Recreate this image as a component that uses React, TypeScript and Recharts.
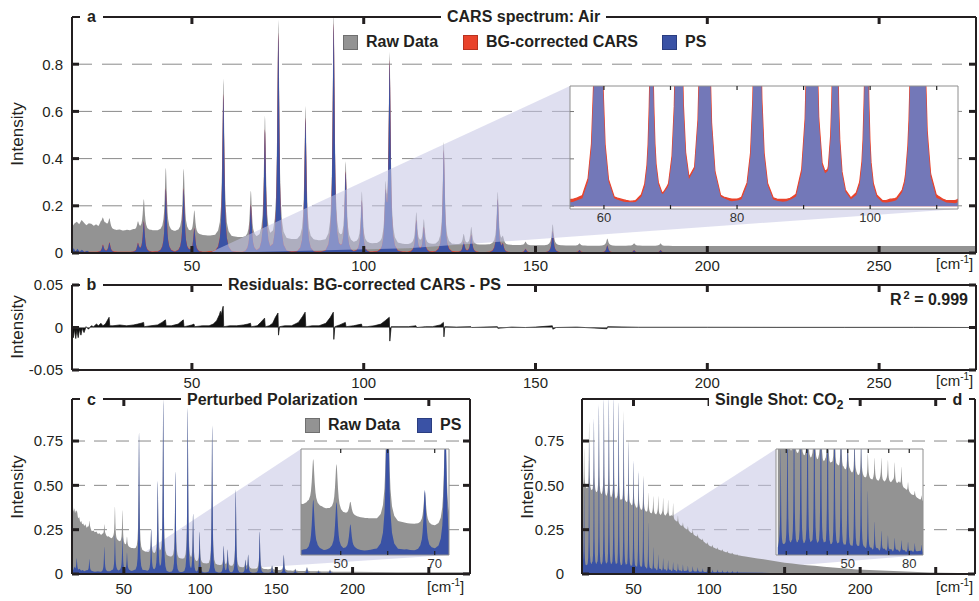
import React from 'react';
import { ComposedChart, Area, XAxis, YAxis, CartesianGrid } from 'recharts';

type Pt = [number, number];
type Line3 = [number, number, number];

// ================= DATA =================
// Panel a/b – air: [wavenumber cm-1, PS (background-free) peak intensity]
const AIR_LINES: Pt[] = [
  [24.1, 0.03], [26.0, 0.04], [34.3, 0.035], [36.0, 0.13], [42.4, 0.27], [47.6, 0.27], [50.7, 0.1],
  [59.15, 0.67], [67.15, 0.2], [71.25, 0.52], [75.15, 0.93], [83.05, 0.57], [91.25, 0.97], [94.75, 0.34],
  [99.45, 0.22], [106.35, 0.21], [107.55, 0.8], [115.3, 0.135], [117.5, 0.105], [123.3, 0.435], [129.1, 0.045],
  [131.3, 0.075], [139.0, 0.225], [140.5, 0.03], [147.1, 0.015], [155.0, 0.09], [162.8, 0.01], [170.9, 0.03],
  [178.7, 0.01], [186.4, 0.01],
];
const AIR_RAW_BG: Pt[] = [
  [15.1, 0.11], [15.8, 0.125], [16.5, 0.132], [17.2, 0.122], [17.9, 0.14], [18.6, 0.128], [19.3, 0.118],
  [20.0, 0.126], [20.7, 0.124], [21.4, 0.115], [22.1, 0.121], [22.8, 0.112], [23.5, 0.128], [24.2, 0.118],
  [24.9, 0.122], [25.8, 0.108], [26.8, 0.1], [28, 0.097], [29, 0.099], [30, 0.095], [31, 0.098], [32, 0.096],
  [33, 0.099], [34, 0.095], [35, 0.097], [36, 0.098], [37, 0.094], [38, 0.096], [39.5, 0.094], [41, 0.093],
  [42.5, 0.092], [44, 0.09], [45.5, 0.091], [47, 0.088], [48.5, 0.087], [50, 0.082], [51.5, 0.077], [53, 0.076],
  [55, 0.073], [57, 0.072], [59, 0.07], [61, 0.068], [63, 0.067], [65, 0.066], [68, 0.063], [71, 0.061],
  [74, 0.059], [77, 0.057], [80, 0.056], [83, 0.054], [86, 0.053], [89, 0.05], [92, 0.048], [95, 0.045],
  [98, 0.042], [102, 0.04], [107, 0.038], [112, 0.037], [117, 0.037], [122, 0.036], [127, 0.036], [132, 0.035],
  [137, 0.035], [142, 0.034], [147, 0.033], [152, 0.032], [157, 0.032], [162, 0.031], [170, 0.031], [180, 0.031],
  [190, 0.03], [200, 0.03], [230, 0.03], [260, 0.03], [278.2, 0.03],
];
const AIR_BGC_BASE: Pt[] = [
  [15.1, 0.008], [20, 0.005], [30, 0.005], [54, 0.005], [55, 0.006], [56, 0.0055], [57, 0.006], [62, 0.0045],
  [63, 0.005], [64, 0.004], [65, 0.0045], [66, 0.0055], [69, 0.004], [70, 0.005], [73, 0.0045], [78, 0.004],
  [79, 0.005], [80, 0.0042], [81, 0.005], [86, 0.0042], [87, 0.005], [88, 0.004], [89, 0.005], [97, 0.004],
  [98, 0.005], [102, 0.004], [103, 0.0052], [104, 0.0044], [110, 0.005], [111, 0.004], [112, 0.0045],
  [113, 0.005], [150, 0.003], [278.2, 0.002],
];
const AIR_PS_BASE: Pt[] = [
  [15.1, 0.012], [15.6, 0.02], [16.1, 0.006], [16.7, 0.018], [17.3, 0.005], [18.0, 0.014], [18.7, 0.004],
  [19.5, 0.01], [20.3, 0.003], [22, 0.003], [60, 0.003], [120, 0.002], [278.2, 0.001],
];
const AIR_RESIDUAL: Pt[] = [
  [15.1, 0], [15.5, -0.012], [15.8, -0.002], [16.2, -0.013], [16.5, -0.003], [16.9, -0.012], [17.3, -0.002],
  [17.7, -0.009], [18.1, -0.001], [18.6, -0.006], [19.2, 0.001], [19.9, -0.002], [20.7, 0.002], [21.4, 0.001],
  [22.2, 0.004], [22.8, 0.002], [23.5, 0.005], [24.1, 0.002], [24.8, 0.004], [25.9, 0.012], [26.1, 0.002],
  [27, 0.002], [29, 0.003], [31, 0.002], [33, 0.003], [34.2, 0.004], [35.2, 0.005], [35.95, 0.006], [36.1, 0.001],
  [38, 0.002], [40, 0.003], [41.3, 0.006], [42.3, 0.009], [42.5, 0.002], [44, 0.002], [46, 0.004], [47.5, 0.009],
  [47.7, 0.001], [49, 0.002], [50, 0.003], [50.6, 0.004], [50.8, 0.001], [53, 0.002], [55, 0.002], [56.2, 0.004],
  [57.2, 0.008], [58.0, 0.015], [58.3, 0.019], [58.5, 0.014], [58.9, 0.022], [59.1, 0.025], [59.25, 0.001],
  [61, 0.002], [63, 0.002], [65, 0.003], [66.3, 0.004], [67.05, 0.005], [67.25, 0.001], [69, 0.002], [70.0, 0.006],
  [71.15, 0.011], [71.35, 0.001], [72.5, 0.002], [73.5, 0.005], [74.3, 0.012], [75.05, 0.017], [75.2, -0.009],
  [75.5, 0.001], [77, 0.002], [79, 0.002], [81, 0.006], [82.2, 0.013], [82.95, 0.018], [83.15, 0.001], [85, 0.002],
  [87, 0.002], [89, 0.005], [90.3, 0.012], [91.15, 0.018], [91.3, -0.014], [91.6, 0.001], [93, 0.003],
  [94.65, 0.006], [94.85, 0.001], [97, 0.002], [99.35, 0.004], [99.55, 0.001], [101, 0.001], [103, 0.002],
  [105, 0.004], [106.25, 0.008], [107.45, 0.012], [107.6, -0.016], [108, 0.001], [110, 0.001], [113, 0.001],
  [115.2, 0.002], [115.4, 0.0], [118, 0.001], [120, 0.001], [122.3, 0.003], [123.2, 0.006], [123.35, -0.011],
  [123.6, 0.001], [127, 0.0005], [131.2, 0.001], [131.4, 0], [135, 0.0005], [138.9, 0.001], [139.05, -0.001],
  [143, 0.0005], [147, 0], [150, 0.0005], [154.9, 0.002], [155.05, -0.002], [156, 0], [162, 0.0005],
  [170.8, -0.0015], [171, 0.001], [180, 0.0003], [200, 0.0003], [220, 0.0002], [240, 0.0002], [260, 0.0002],
  [278.2, 0],
];

// Panel c – perturbed polarization: [wavenumber, PS peak, raw peak]
const PP_LINES: Line3[] = [
  [19.1, 0.06, 0.36], [27.4, 0.07, 0.30], [37.2, 0.14, 0.28], [44.15, 0.2, 0.38], [49.1, 0.19, 0.36],
  [52.05, 0.1, 0.21], [59.95, 0.78, 0.8], [67.9, 0.24, 0.25], [72.25, 0.51, 0.52], [75.8, 0.97, 0.99],
  [83.8, 0.57, 0.58], [91.9, 0.93, 0.94], [95.4, 0.33, 0.34], [99.7, 0.23, 0.24], [107.9, 0.83, 0.84],
  [115.5, 0.15, 0.16], [118.1, 0.13, 0.14], [123.4, 0.47, 0.48], [129.7, 0.07, 0.08], [131.5, 0.1, 0.11],
  [139.1, 0.235, 0.24], [147.2, 0.04, 0.05], [154.9, 0.1, 0.11], [162.4, 0.02, 0.03], [170.1, 0.03, 0.04],
  [177.7, 0.01, 0.02], [185.2, 0.015, 0.025],
];
const PP_RAW_BG: Pt[] = [
  [16, 0.37], [16.5, 0.39], [17, 0.35], [17.5, 0.37], [18, 0.34], [18.5, 0.35], [19, 0.32], [19.5, 0.33],
  [20, 0.31], [20.7, 0.32], [21.4, 0.29], [22, 0.3], [22.7, 0.28], [23.4, 0.285], [24, 0.27], [24.8, 0.28],
  [25.6, 0.26], [26.4, 0.265], [27.2, 0.25], [28, 0.255], [29, 0.24], [30, 0.245], [31, 0.235], [32, 0.24],
  [33, 0.225], [34, 0.23], [35, 0.22], [36, 0.225], [37, 0.215], [38, 0.22], [39, 0.21], [40, 0.212],
  [41, 0.205], [42, 0.2], [43, 0.203], [44, 0.196], [45, 0.19], [46, 0.188], [47, 0.182], [48, 0.178],
  [49, 0.17], [50, 0.165], [51, 0.16], [52, 0.155], [53, 0.153], [54, 0.15], [55, 0.147], [56, 0.145],
  [58, 0.14], [60, 0.136], [62, 0.13], [64, 0.126], [66, 0.122], [68, 0.118], [70, 0.113], [73, 0.108],
  [76, 0.104], [80, 0.098], [84, 0.092], [88, 0.085], [92, 0.078], [96, 0.071], [100, 0.064], [105, 0.057],
  [110, 0.052], [115, 0.048], [120, 0.044], [125, 0.04], [130, 0.034], [135, 0.03], [140, 0.028], [146, 0.027],
  [151, 0.023], [157, 0.02], [165, 0.017], [175, 0.015], [187, 0.013], [200, 0.012], [230, 0.01], [277, 0.01],
];
const PP_PS_BASE: Pt[] = [
  [16, 0.03], [16.5, 0.05], [17, 0.02], [17.6, 0.04], [18.2, 0.025], [19, 0.03], [20, 0.02], [21, 0.028],
  [22, 0.018], [23, 0.022], [24, 0.015], [25.5, 0.02], [27, 0.014], [29, 0.016], [31, 0.012], [33, 0.015],
  [35, 0.012], [38, 0.014], [41, 0.015], [42, 0.02], [43, 0.016], [45, 0.022], [46.5, 0.017], [48, 0.021],
  [50.5, 0.018], [53, 0.022], [55, 0.017], [57, 0.02], [62, 0.018], [64, 0.021], [66, 0.016], [70, 0.02],
  [73, 0.016], [76, 0.012], [80, 0.01], [100, 0.008], [130, 0.007], [170, 0.006], [277, 0.006],
];

// Panel d – single shot CO2: [wavenumber, PS peak, raw peak]
const CO2_LINES: Line3[] = [
  [17.3, 0.45, 0.71], [20.6, 0.72, 0.86], [23.8, 0.85, 0.86], [27.1, 0.93, 0.95], [30.4, 0.97, 0.98],
  [33.7, 0.98, 0.98], [36.9, 0.98, 0.98], [40.2, 0.95, 0.97], [43.5, 0.85, 0.92], [46.7, 0.72, 0.76],
  [50.0, 0.62, 0.63], [53.3, 0.56, 0.575], [56.5, 0.52, 0.556], [59.8, 0.27, 0.46], [63.1, 0.13, 0.44],
  [66.4, 0.09, 0.44], [69.6, 0.07, 0.43], [72.9, 0.06, 0.42], [76.2, 0.05, 0.4], [79.4, 0.045, 0.33],
  [82.7, 0.04, 0.29], [86.0, 0.035, 0.27], [89.2, 0.03, 0.25], [92.5, 0.025, 0.225], [95.8, 0.02, 0.2],
  [99.1, 0.02, 0.18], [102.3, 0.015, 0.165], [105.6, 0.015, 0.15], [108.9, 0.012, 0.14], [112.1, 0.01, 0.13],
  [115.4, 0.01, 0.12], [118.7, 0.008, 0.11],
];
const CO2_RAW_BG: Pt[] = [
  [15.9, 0.49], [17, 0.48], [18, 0.495], [19, 0.48], [20, 0.475], [21, 0.485], [22, 0.47], [23, 0.465],
  [24, 0.475], [25, 0.46], [26, 0.455], [27, 0.465], [28, 0.45], [29, 0.445], [30, 0.455], [31, 0.44],
  [32, 0.435], [33, 0.445], [34, 0.43], [35, 0.425], [36, 0.435], [37, 0.42], [38, 0.415], [39, 0.425],
  [40, 0.41], [41, 0.405], [42, 0.415], [43, 0.4], [44, 0.395], [45, 0.405], [46, 0.39], [47, 0.385],
  [48, 0.395], [49, 0.38], [50, 0.375], [51, 0.385], [52, 0.37], [53, 0.365], [54, 0.375], [55, 0.36],
  [56, 0.355], [57, 0.365], [58, 0.352], [59, 0.348], [60, 0.358], [61, 0.345], [62, 0.34], [63, 0.352],
  [64, 0.34], [65, 0.335], [66, 0.347], [67, 0.336], [68, 0.332], [69, 0.343], [70, 0.333], [71, 0.328],
  [72, 0.338], [73, 0.33], [74, 0.324], [75, 0.332], [76, 0.31], [77, 0.305], [78, 0.3], [79, 0.29],
  [80, 0.285], [81, 0.275], [82, 0.27], [83, 0.265], [84, 0.258], [85, 0.252], [86, 0.245], [87, 0.24],
  [88, 0.232], [90, 0.22], [92, 0.21], [94, 0.198], [96, 0.185], [98, 0.172], [100, 0.16], [102, 0.152],
  [104, 0.145], [106, 0.138], [108, 0.132], [110, 0.126], [113, 0.118], [116, 0.112], [120, 0.104],
  [124, 0.098], [128, 0.093], [132, 0.088], [136, 0.083], [140, 0.077], [145, 0.07], [150, 0.064], [155, 0.059],
  [160, 0.054], [165, 0.05], [170, 0.046], [176, 0.041], [182, 0.037], [190, 0.031], [198, 0.026], [206, 0.023],
  [214, 0.02], [222, 0.017], [230, 0.014], [238, 0.011], [246, 0.009], [255, 0.007], [265, 0.005], [276, 0.004],
];
const CO2_PS_BASE: Pt[] = [
  [15.9, 0.03], [16.8, 0.055], [17.5, 0.03], [19, 0.045], [20, 0.03], [22.5, 0.05], [23.3, 0.03], [25.8, 0.05],
  [26.5, 0.028], [29, 0.045], [29.8, 0.03], [32.3, 0.05], [33, 0.027], [35.5, 0.045], [36.2, 0.027], [38.7, 0.048],
  [39.4, 0.025], [42, 0.04], [42.8, 0.025], [45.3, 0.045], [46, 0.024], [48.5, 0.04], [49.3, 0.022], [51.7, 0.038],
  [52.5, 0.02], [55, 0.036], [55.7, 0.02], [58.2, 0.034], [59, 0.018], [61.5, 0.032], [62.3, 0.018], [64.7, 0.03],
  [65.5, 0.016], [68, 0.028], [68.8, 0.015], [71.2, 0.026], [72, 0.014], [74.4, 0.024], [75.3, 0.013],
  [77.6, 0.022], [78.5, 0.012], [81, 0.02], [82, 0.012], [85, 0.018], [86, 0.011], [90, 0.014], [95, 0.012],
  [100, 0.01], [110, 0.009], [120, 0.008], [140, 0.006], [170, 0.005], [276, 0.004],
];

// normalised line profile read from an isolated peak in the zoom (offset cm-1 -> fraction of peak)
const LINE_PROFILE: Pt[] = [
  [0, 1], [0.08, 0.96], [0.16, 0.86], [0.25, 0.72], [0.4, 0.5], [0.6, 0.3], [0.8, 0.19], [1.2, 0.09],
  [1.8, 0.035], [2.8, 0.008], [4.5, 0.002], [6, 0],
];
// line width factor per panel (a, c, d)
const LINE_WIDTH_A = 0.85;
const LINE_WIDTH_C = 0.8;
const LINE_WIDTH_D = 0.5;

// ticks
const AB_X_TICKS = [50, 100, 150, 200, 250];
const A_Y_TICKS = [0, 0.2, 0.4, 0.6, 0.8];
const B_Y_TICKS = [-0.05, 0, 0.05];
const CD_X_TICKS = [50, 100, 150, 200, 250];
const CD_Y_TICKS = [0, 0.25, 0.5, 0.75];
const A_INSET_TICKS = [60, 70, 80, 90, 100, 110];
const A_INSET_LABELS = [60, 80, 100];
const A_INSET_Y_TICKS = [0, 0.05, 0.1];
const C_INSET_TICKS = [50, 60, 70];
const C_INSET_LABELS = [50, 70];
const D_INSET_TICKS = [20, 30, 40, 50, 60, 70, 80];
const D_INSET_LABELS = [50, 80];

// ================= LAYOUT =================
const FONT = '"Liberation Sans", Arial, Helvetica, sans-serif';
const INK = '#231f20';
const GRAY = '#939393';
const BLUE = '#3a52a5';
const RED = '#e9432b';
const INSET_BLUE = '#7378b8';
const SHADE = '#c4c4e4';

type Box = { left: number; right: number; top: number; bottom: number };
const A_DOM: Pt = [15.1, 278.2];
const A_YDOM: Pt = [0, 1];
const A_BOX: Box = { left: 72, right: 976, top: 17, bottom: 253 };
const A_INSET: Box = { left: 570, right: 958, top: 86, bottom: 209 };
const A_INSET_DOM: Pt = [54.9, 113.2];
const A_INSET_YDOM: Pt = [-0.003, 0.127];
const B_YDOM: Pt = [-0.05, 0.05];
const C_DOM: Pt = [16, 277];
const CD_YDOM: Pt = [0, 0.987];
const C_BOX: Box = { left: 72, right: 470, top: 399, bottom: 574 };
const C_INSET: Box = { left: 301, right: 449, top: 449, bottom: 555 };
const C_INSET_DOM: Pt = [41.55, 73.04];
const C_INSET_YDOM: Pt = [0, 0.42];
const D_DOM: Pt = [15.9, 276];
const D_BOX: Box = { left: 582, right: 975, top: 399, bottom: 574 };
const D_INSET: Box = { left: 776, right: 923, top: 449, bottom: 555 };
const D_INSET_DOM: Pt = [15.0, 86.7];
const D_INSET_YDOM: Pt = [0, 0.48];

// ================= HELPERS =================
function interp(pts: Pt[], x: number): number {
  const n = pts.length;
  if (x <= pts[0][0]) return pts[0][1];
  if (x >= pts[n - 1][0]) return pts[n - 1][1];
  let lo = 0, hi = n - 1;
  while (hi - lo > 1) {
    const m = (lo + hi) >> 1;
    if (pts[m][0] <= x) lo = m; else hi = m;
  }
  const [x0, y0] = pts[lo];
  const [x1, y1] = pts[hi];
  return y0 + ((y1 - y0) * (x - x0)) / (x1 - x0);
}
function shape(d: number, w: number): number {
  const a = Math.abs(d) / w;
  return a >= 6 ? 0 : interp(LINE_PROFILE, a);
}
function spectrum(range: Pt, base: Pt[], lines: Pt[], width: number) {
  const set = new Set<number>();
  const add = (x: number) => {
    if (x >= range[0] && x <= range[1]) set.add(Math.round(x * 10000) / 10000);
  };
  add(range[0]);
  add(range[1]);
  base.forEach((p) => add(p[0]));
  lines.forEach(([p]) => LINE_PROFILE.forEach(([d]) => { add(p + d * width); add(p - d * width); }));
  const xs = Array.from(set).sort((a, b) => a - b);
  return xs.map((x) => ({
    x,
    y: interp(base, x) + lines.reduce((s, [p, h]) => s + h * shape(x - p, width), 0),
  }));
}
function rawAmps(lines: Line3[], bg: Pt[]): Pt[] {
  return lines.map(([p, , raw]) => [p, Math.max(0, raw - interp(bg, p))] as Pt);
}
function px2data(px: number, py: number, box: Box, xd: Pt, yd: Pt): Pt {
  return [
    xd[0] + ((px - box.left) * (xd[1] - xd[0])) / (box.right - box.left),
    yd[0] + ((box.bottom - py) * (yd[1] - yd[0])) / (box.bottom - box.top),
  ];
}
function zoomShade(box: Box, xd: Pt, yd: Pt, inset: Box, zx: Pt, ztop: number) {
  const tl = px2data(inset.left, inset.top, box, xd, yd);
  const tr = px2data(inset.right, inset.top, box, xd, yd);
  const br = px2data(inset.right, inset.bottom, box, xd, yd);
  const lower: Pt[] = [[zx[0], 0], [zx[1], ztop], br];
  const upper: Pt[] = [[zx[0], 0], tl, tr];
  const xs = Array.from(new Set([zx[0], zx[1], tl[0], tr[0]])).sort((a, b) => a - b);
  return xs.map((x) => ({ x, r: [interp(lower, x), interp(upper, x)] }));
}

// ================= SERIES =================
const aRaw = spectrum(A_DOM, AIR_RAW_BG, AIR_LINES, LINE_WIDTH_A);
const aBgc = spectrum(A_DOM, AIR_BGC_BASE, AIR_LINES, LINE_WIDTH_A);
const aPs = spectrum(A_DOM, AIR_PS_BASE, AIR_LINES, LINE_WIDTH_A);
const bRes = AIR_RESIDUAL.map(([x, y]) => ({ x, y }));
const cRaw = spectrum(C_DOM, PP_RAW_BG, rawAmps(PP_LINES, PP_RAW_BG), LINE_WIDTH_C);
const cPs = spectrum(C_DOM, PP_PS_BASE, PP_LINES.map(([p, ps]) => [p, ps] as Pt), LINE_WIDTH_C);
const dRaw = spectrum(D_DOM, CO2_RAW_BG, rawAmps(CO2_LINES, CO2_RAW_BG), LINE_WIDTH_D);
const dPs = spectrum(D_DOM, CO2_PS_BASE, CO2_LINES.map(([p, ps]) => [p, ps] as Pt), LINE_WIDTH_D);
const aShade = zoomShade(A_BOX, A_DOM, A_YDOM, A_INSET, [55, 113], 0.02);
const cShade = zoomShade(C_BOX, C_DOM, CD_YDOM, C_INSET, [42, 73], 0);
const dShade = zoomShade(D_BOX, D_DOM, CD_YDOM, D_INSET, [16, 86], 0);

// ================= AXES =================
const axisLineS = { stroke: INK, strokeWidth: 2 };
const tickLineS = { stroke: INK, strokeWidth: 3 };
const tickTextS = { fontSize: 15, fill: INK, fontFamily: FONT };
const blank = () => '';
const fmt1 = (v: number) => (v === 0 ? '0' : v.toFixed(1));
const fmt2 = (v: number) => (v === 0 ? '0' : v.toFixed(2));
const fmtX = (v: number) => String(v);
const fmtXcd = (v: number) => (v === 250 ? '' : String(v));

function frameAxes(o: {
  xd: Pt; yd: Pt; xt: number[]; yt: number[]; yFmt: (v: number) => string; xFmt: (v: number) => string;
  xMargin: number; yMargin: number; yWidth: number;
}) {
  return [
    <XAxis key="xb" xAxisId="x" type="number" dataKey="x" domain={o.xd} allowDataOverflow ticks={o.xt}
      interval={0} tickSize={-7} tickMargin={o.xMargin} height={27} axisLine={axisLineS} tickLine={tickLineS}
      tick={tickTextS} tickFormatter={o.xFmt} />,
    <XAxis key="xt" xAxisId="t" orientation="top" type="number" dataKey="x" domain={o.xd} allowDataOverflow
      ticks={o.xt} interval={0} tickSize={-7} height={1} axisLine={axisLineS} tickLine={tickLineS}
      tick={tickTextS} tickFormatter={blank} />,
    <YAxis key="yl" yAxisId="y" type="number" domain={o.yd} allowDataOverflow ticks={o.yt} interval={0}
      tickSize={-7} tickMargin={o.yMargin} width={o.yWidth} axisLine={axisLineS} tickLine={tickLineS}
      tick={tickTextS} tickFormatter={o.yFmt} />,
    <YAxis key="yr" yAxisId="r" orientation="right" type="number" domain={o.yd} allowDataOverflow ticks={o.yt}
      interval={0} tickSize={-7} width={1} axisLine={axisLineS} tickLine={tickLineS} tick={tickTextS}
      tickFormatter={blank} />,
  ];
}

function insetAxes(xd: Pt, yd: Pt, xt: number[], labels: number[], yt: number[]) {
  const frame = { stroke: '#8e8e8e', strokeWidth: 1 };
  const tl = { stroke: '#222', strokeWidth: 1.2 };
  return [
    <XAxis key="ixb" xAxisId="x" type="number" dataKey="x" domain={xd} allowDataOverflow ticks={xt} interval={0}
      tickSize={-4} tickMargin={8} height={20} axisLine={frame} tickLine={tl}
      tick={{ fontSize: 13, fill: '#333', fontFamily: FONT }}
      tickFormatter={(v: number) => (labels.includes(v) ? String(v) : '')} />,
    <XAxis key="ixt" xAxisId="t" orientation="top" type="number" dataKey="x" domain={xd} allowDataOverflow
      ticks={xt} interval={0} tickSize={-4} height={1} axisLine={frame} tickLine={tl} tickFormatter={blank} />,
    <YAxis key="iyl" yAxisId="y" type="number" domain={yd} allowDataOverflow ticks={yt.length ? yt : [yd[0]]}
      interval={0} tickSize={-4} width={1} axisLine={frame}
      tickLine={yt.length ? { stroke: '#777', strokeWidth: 1 } : false} tickFormatter={blank} />,
    <YAxis key="iyr" yAxisId="r" orientation="right" type="number" domain={yd} allowDataOverflow
      ticks={[yd[0]]} interval={0} width={1} axisLine={frame} tickLine={false} tickFormatter={blank} />,
  ];
}

const areaCommon = {
  xAxisId: 'x',
  yAxisId: 'y',
  type: 'linear' as const,
  isAnimationActive: false,
  dot: false,
  activeDot: false,
  dataKey: 'y',
};

// ================= TEXT OVERLAYS =================
function Title(p: { left: number; top: number; children: React.ReactNode; width?: number }) {
  return (
    <div style={{
      position: 'absolute', left: p.left, top: p.top, width: p.width, background: '#fff', fontWeight: 700,
      fontSize: 16, lineHeight: '17px', padding: '0 6px', whiteSpace: 'nowrap', color: INK,
      textAlign: 'center',
    }}>{p.children}</div>
  );
}
function Intensity({ cx, cy }: { cx: number; cy: number }) {
  return (
    <div style={{
      position: 'absolute', left: cx - 50, top: cy - 11, width: 100, height: 22, lineHeight: '22px',
      textAlign: 'center', fontSize: 17, color: INK, transform: 'rotate(-90deg)',
    }}>Intensity</div>
  );
}
function Unit({ left, top }: { left: number; top: number }) {
  return (
    <div style={{ position: 'absolute', left, top, fontSize: 15, lineHeight: '18px', color: INK, whiteSpace: 'nowrap' }}>
      [cm<span style={{ fontSize: 10, position: 'relative', top: -6 }}>-1</span>]
    </div>
  );
}
function LegendItem({ left, top, color, border, label }: { left: number; top: number; color: string; border: string; label: string }) {
  return (
    <div style={{ position: 'absolute', left, top, display: 'flex', alignItems: 'center', whiteSpace: 'nowrap' }}>
      <div style={{ width: 13, height: 13, background: color, border: `1px solid ${border}` }} />
      <span style={{ marginLeft: 8, fontSize: 16, fontWeight: 700, color: INK, lineHeight: '18px' }}>{label}</span>
    </div>
  );
}

export default function App() {
  return (
    <div style={{ position: 'absolute', left: 0, top: 0, width: 979, height: 601, background: '#fff', fontFamily: FONT, overflow: 'hidden' }}>
      {/* ---------- panel a ---------- */}
      <div style={{ position: 'absolute', left: 0, top: 0 }}>
        <ComposedChart width={979} height={280} margin={{ top: 16, right: 2, bottom: 0, left: 0 }}>
          <CartesianGrid xAxisId="x" yAxisId="y" vertical={false} stroke="#8a8a8a" strokeDasharray="20 10" />
          {frameAxes({ xd: A_DOM, yd: A_YDOM, xt: AB_X_TICKS, yt: A_Y_TICKS, yFmt: fmt1, xFmt: fmtX, xMargin: 14, yMargin: 16, yWidth: 72 })}
          <Area {...areaCommon} data={aRaw} fill={GRAY} fillOpacity={1} stroke="none" />
          <Area {...areaCommon} data={aBgc} fill={RED} fillOpacity={1} stroke="none" />
          <Area {...areaCommon} data={aPs} fill={BLUE} fillOpacity={1} stroke="none" />
          <Area {...areaCommon} dataKey="r" data={aShade} fill={SHADE} fillOpacity={0.55} stroke="none" />
        </ComposedChart>
      </div>
      {/* ---------- panel b ---------- */}
      <div style={{ position: 'absolute', left: 0, top: 268 }}>
        <ComposedChart width={979} height={129} margin={{ top: 16, right: 2, bottom: 0, left: 0 }}>
          {frameAxes({ xd: A_DOM, yd: B_YDOM, xt: AB_X_TICKS, yt: B_Y_TICKS, yFmt: fmt2, xFmt: fmtX, xMargin: 14, yMargin: 16, yWidth: 72 })}
          <Area {...areaCommon} data={bRes} fill="#111" fillOpacity={1} stroke="#111" strokeWidth={0.7} />
        </ComposedChart>
      </div>
      {/* ---------- panel c ---------- */}
      <div style={{ position: 'absolute', left: 0, top: 382 }}>
        <ComposedChart width={473} height={219} margin={{ top: 16, right: 2, bottom: 0, left: 0 }}>
          <CartesianGrid xAxisId="x" yAxisId="y" vertical={false} stroke="#8a8a8a" strokeDasharray="13 9" />
          {frameAxes({ xd: C_DOM, yd: CD_YDOM, xt: CD_X_TICKS, yt: CD_Y_TICKS, yFmt: fmt2, xFmt: fmtXcd, xMargin: 16, yMargin: 16, yWidth: 72 })}
          <Area {...areaCommon} dataKey="r" data={cShade} fill={SHADE} fillOpacity={0.55} stroke="none" />
          <Area {...areaCommon} data={cRaw} fill={GRAY} fillOpacity={1} stroke="none" />
          <Area {...areaCommon} data={cPs} fill={BLUE} fillOpacity={1} stroke="none" />
        </ComposedChart>
      </div>
      {/* ---------- panel d ---------- */}
      <div style={{ position: 'absolute', left: 490, top: 382 }}>
        <ComposedChart width={488} height={219} margin={{ top: 16, right: 2, bottom: 0, left: 0 }}>
          <CartesianGrid xAxisId="x" yAxisId="y" vertical={false} stroke="#8a8a8a" strokeDasharray="13 9" />
          {frameAxes({ xd: D_DOM, yd: CD_YDOM, xt: CD_X_TICKS, yt: CD_Y_TICKS, yFmt: fmt2, xFmt: fmtXcd, xMargin: 16, yMargin: 25, yWidth: 92 })}
          <Area {...areaCommon} dataKey="r" data={dShade} fill={SHADE} fillOpacity={0.55} stroke="none" />
          <Area {...areaCommon} data={dRaw} fill={GRAY} fillOpacity={1} stroke="none" />
          <Area {...areaCommon} data={dPs} fill={BLUE} fillOpacity={1} stroke="none" />
        </ComposedChart>
      </div>
      {/* ---------- insets ---------- */}
      <div style={{ position: 'absolute', left: A_INSET.left - 1, top: A_INSET.top - 1 }}>
        <ComposedChart width={A_INSET.right - A_INSET.left + 2} height={A_INSET.bottom - A_INSET.top + 21} margin={{ top: 0, right: 0, bottom: 0, left: 0 }}>
          <CartesianGrid xAxisId="x" yAxisId="y" horizontal={false} vertical={false} fill="#fff" />
          {insetAxes(A_INSET_DOM, A_INSET_YDOM, A_INSET_TICKS, A_INSET_LABELS, A_INSET_Y_TICKS)}
          <Area {...areaCommon} data={aBgc} fill={RED} fillOpacity={1} stroke={RED} strokeWidth={1.2} />
          <Area {...areaCommon} data={aPs} fill={INSET_BLUE} fillOpacity={1} stroke="none" />
        </ComposedChart>
      </div>
      <div style={{ position: 'absolute', left: C_INSET.left - 1, top: C_INSET.top - 1 }}>
        <ComposedChart width={C_INSET.right - C_INSET.left + 2} height={C_INSET.bottom - C_INSET.top + 21} margin={{ top: 0, right: 0, bottom: 0, left: 0 }}>
          <CartesianGrid xAxisId="x" yAxisId="y" horizontal={false} vertical={false} fill="#fff" />
          {insetAxes(C_INSET_DOM, C_INSET_YDOM, C_INSET_TICKS, C_INSET_LABELS, [])}
          <Area {...areaCommon} data={cRaw} fill={GRAY} fillOpacity={1} stroke="none" />
          <Area {...areaCommon} data={cPs} fill={BLUE} fillOpacity={1} stroke="none" />
        </ComposedChart>
      </div>
      <div style={{ position: 'absolute', left: D_INSET.left - 1, top: D_INSET.top - 1 }}>
        <ComposedChart width={D_INSET.right - D_INSET.left + 2} height={D_INSET.bottom - D_INSET.top + 21} margin={{ top: 0, right: 0, bottom: 0, left: 0 }}>
          <CartesianGrid xAxisId="x" yAxisId="y" horizontal={false} vertical={false} fill="#fff" />
          {insetAxes(D_INSET_DOM, D_INSET_YDOM, D_INSET_TICKS, D_INSET_LABELS, [])}
          <Area {...areaCommon} data={dRaw} fill={GRAY} fillOpacity={1} stroke="none" />
          <Area {...areaCommon} data={dPs} fill={BLUE} fillOpacity={1} stroke="none" />
        </ComposedChart>
      </div>

      {/* ---------- titles, labels, legends ---------- */}
      <Title left={80} top={8} width={11}>a</Title>
      <Title left={441} top={8}>CARS spectrum: Air</Title>
      <Title left={80} top={276} width={11}>b</Title>
      <Title left={222} top={276}>Residuals: BG-corrected CARS - PS</Title>
      <Title left={80} top={391} width={11}>c</Title>
      <Title left={181} top={391}>Perturbed Polarization</Title>
      <Title left={709} top={391}>Single Shot: CO<span style={{ fontSize: 12, position: 'relative', top: 4 }}>2</span></Title>
      <Title left={946} top={391} width={11}>d</Title>

      <div style={{ position: 'absolute', left: 890, top: 291, fontSize: 16, fontWeight: 700, color: INK, whiteSpace: 'nowrap', lineHeight: '18px' }}>
        R<span style={{ fontSize: 11, position: 'relative', top: -6, marginLeft: 2 }}>2</span> = 0.999
      </div>

      <Intensity cx={18} cy={134} />
      <Intensity cx={18} cy={327} />
      <Intensity cx={18} cy={487} />
      <Intensity cx={528} cy={487} />

      <Unit left={936} top={255} />
      <Unit left={936} top={372} />
      <Unit left={427} top={578} />
      <Unit left={936} top={578} />

      <LegendItem left={343} top={33} color={GRAY} border="#6f6f6f" label="Raw Data" />
      <LegendItem left={463} top={33} color={RED} border="#b8321f" label="BG-corrected CARS" />
      <LegendItem left={662} top={33} color={BLUE} border="#2a3d80" label="PS" />
      <LegendItem left={305} top={416} color={GRAY} border="#6f6f6f" label="Raw Data" />
      <LegendItem left={417} top={416} color={BLUE} border="#2a3d80" label="PS" />
    </div>
  );
}
